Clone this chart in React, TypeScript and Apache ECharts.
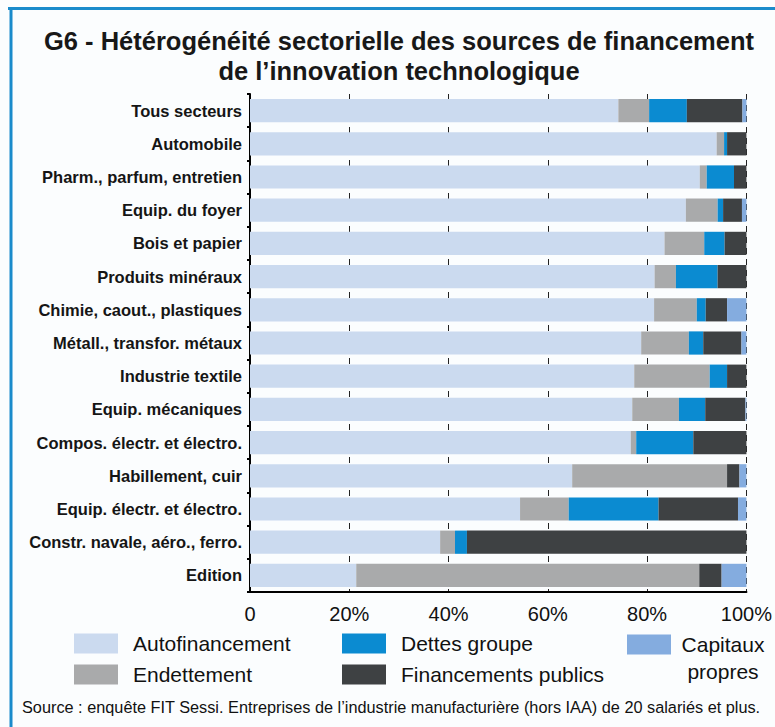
import React, { useEffect, useRef } from "react";
import * as echarts from "echarts";

const categories = [
  "Tous secteurs",
  "Automobile",
  "Pharm., parfum, entretien",
  "Equip. du foyer",
  "Bois et papier",
  "Produits minéraux",
  "Chimie, caout., plastiques",
  "Métall., transfor. métaux",
  "Industrie textile",
  "Equip. mécaniques",
  "Compos. électr. et électro.",
  "Habillement, cuir",
  "Equip. électr. et électro.",
  "Constr. navale, aéro., ferro.",
  "Edition",
];

const autofinancement = [74.2, 94.0, 90.6, 87.8, 83.5, 81.5, 81.4, 78.8, 77.4, 77.0, 76.7, 64.9, 54.4, 38.3, 21.4];
const endettement = [6.2, 1.5, 1.4, 6.4, 8.0, 4.3, 8.6, 9.6, 15.2, 9.4, 1.1, 31.2, 9.8, 3.0, 69.1];
const dettesGroupe = [7.6, 0.6, 5.5, 1.1, 4.1, 8.4, 1.8, 2.9, 3.5, 5.3, 11.5, 0, 18.1, 2.4, 0];
const financementsPublics = [11.2, 3.9, 2.5, 3.8, 4.4, 5.8, 4.3, 7.7, 3.9, 8.1, 10.7, 2.5, 16.0, 56.3, 4.5];
const capitauxPropres = [0.8, 0, 0, 0.9, 0, 0, 3.9, 1.0, 0, 0.2, 0, 1.4, 1.7, 0, 5.0];

const xTicks = [0, 20, 40, 60, 80, 100];

const titleText = "G6 - Hétérogénéité sectorielle des sources de financement\nde l’innovation technologique";
const sourceText =
  "Source : enquête FIT Sessi. Entreprises de l’industrie manufacturière (hors IAA) de 20 salariés et plus.";

const seriesDefs = [
  { name: "Autofinancement", data: autofinancement, color: "#cbdaef" },
  { name: "Endettement", data: endettement, color: "#a9aaab" },
  { name: "Dettes groupe", data: dettesGroupe, color: "#0b8bd1" },
  { name: "Financements publics", data: financementsPublics, color: "#3e4143" },
  { name: "Capitaux propres", data: capitauxPropres, color: "#84acdf" },
];

const FONT = "'Liberation Sans', Arial, sans-serif";

export default function App() {
  const ref = useRef<HTMLDivElement>(null);

  useEffect(() => {
    if (!ref.current) return;
    const chart = echarts.init(ref.current, null, { renderer: "svg" });
    const legendText = { fontFamily: FONT, fontSize: 21, color: "#111", padding: [0, 0, 0, 10] };
    const option: any = {
      animation: false,
      backgroundColor: "#fbfdfe",
      textStyle: { fontFamily: FONT },
      title: {
        text: titleText,
        left: 394,
        textAlign: "center",
        top: 21,
        textStyle: {
          fontFamily: FONT,
          fontSize: 25.5,
          fontWeight: "bold",
          lineHeight: 30,
          color: "#181818",
        },
      },
      grid: { left: 250, right: 21, top: 94, bottom: 135, containLabel: false },
      xAxis: {
        type: "value",
        min: 0,
        max: 100,
        interval: 20,
        axisLine: { show: true, lineStyle: { color: "#000", width: 2 } },
        axisTick: { show: false },
        axisLabel: {
          margin: 12,
          fontFamily: FONT,
          fontSize: 20,
          color: "#111",
          formatter: (v: number) => (xTicks.includes(v) ? (v === 0 ? "0" : v + "%") : ""),
        },
        splitLine: { show: true, lineStyle: { color: "#222", width: 1, type: [6, 5] } },
      },
      yAxis: {
        type: "category",
        inverse: true,
        data: categories,
        axisLine: { show: true, lineStyle: { color: "#000", width: 2 } },
        axisTick: { show: true, length: 3, lineStyle: { color: "#000", width: 2 } },
        axisLabel: {
          margin: 8,
          fontFamily: FONT,
          fontSize: 16.5,
          fontWeight: "bold",
          color: "#151515",
        },
      },
      legend: [
        {
          orient: "vertical",
          left: 74,
          top: 633,
          padding: 0,
          itemWidth: 44,
          itemHeight: 20,
          itemGap: 10,
          icon: "rect",
          selectedMode: false,
          data: ["Autofinancement", "Endettement"],
          textStyle: legendText,
        },
        {
          orient: "vertical",
          left: 342,
          top: 633,
          padding: 0,
          itemWidth: 44,
          itemHeight: 20,
          itemGap: 10,
          icon: "rect",
          selectedMode: false,
          data: ["Dettes groupe", "Financements publics"],
          textStyle: legendText,
        },
        {
          orient: "vertical",
          left: 627,
          top: 604,
          padding: 0,
          itemWidth: 44,
          itemHeight: 20,
          icon: "rect",
          selectedMode: false,
          data: ["Capitaux propres"],
          formatter: () => "{c|Capitaux}\n{c|propres}",
          textStyle: {
            fontFamily: FONT,
            fontSize: 21,
            color: "#111",
            lineHeight: 27,
            padding: [27, 0, 0, 4],
            rich: { c: { fontFamily: FONT, fontSize: 21, color: "#111", width: 86, align: "center", lineHeight: 27 } },
          },
        },
      ],
      graphic: [
        { type: "line", shape: { x1: 8, y1: 8.5, x2: 775, y2: 8.5 }, style: { stroke: "#1a8bcb", lineWidth: 3 } },
        { type: "line", shape: { x1: 11, y1: 7, x2: 11, y2: 727 }, style: { stroke: "#1a8bcb", lineWidth: 3 } },
        {
          type: "text",
          left: 22,
          top: 699,
          style: { text: sourceText, fontFamily: FONT, fontSize: 16.3, fill: "#111" },
        },
      ],
      series: seriesDefs.map((s) => ({
        name: s.name,
        type: "bar",
        stack: "total",
        data: s.data,
        barCategoryGap: "30%",
        itemStyle: { color: s.color },
        emphasis: { disabled: true },
      })),
    };
    chart.setOption(option);
    return () => chart.dispose();
  }, []);

  return (
    <div
      ref={ref}
      style={{ position: "fixed", left: 0, top: 0, width: 775, height: 727 }}
    />
  );
}
